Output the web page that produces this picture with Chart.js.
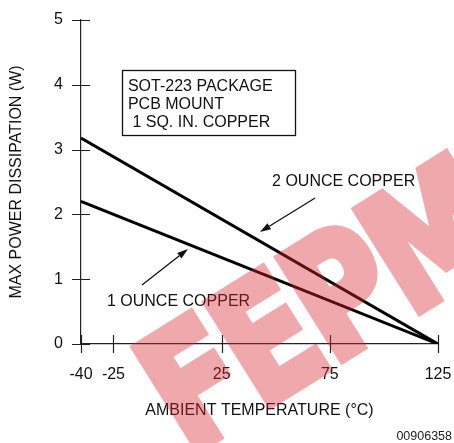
<!DOCTYPE html>
<html><head><meta charset="utf-8">
<script src="https://cdn.jsdelivr.net/npm/chart.js@4.4.0/dist/chart.umd.min.js"></script>
<style>html,body{margin:0;padding:0;background:#fff;}#wrap{width:454px;height:443px;}</style>
</head><body><div id="wrap"><canvas id="c" width="454" height="443"></canvas></div>
<script>
// ---- data ----
const temperatures = [-40, 125];
const twoOunceCopper = [3.18, 0];
const oneOunceCopper = [2.2, 0];
const xTickValues = [-40, -25, 25, 75, 125];
const yTickValues = [0, 1, 2, 3, 4, 5];
const boxLines = ['SOT-223 PACKAGE', 'PCB MOUNT', ' 1 SQ. IN. COPPER'];
const seriesLabels = ['2 OUNCE COPPER', '1 OUNCE COPPER'];
// annotation anchors in data units
const boxRect = {x0: -21, x1: 59, y0: 4.23, y1: 3.225};
const boxTextX = -18.3;
const boxTextY = [3.98, 3.70, 3.41];
const labelPos = [{x: 48.3, y: 2.5}, {x: -28, y: 0.648}];
const arrows = [
  {from: {x: 68.2, y: 2.253}, to: {x: 42.7, y: 1.728}},
  {from: {x: -11.8, y: 0.91}, to: {x: 9.45, y: 1.466}}
];

const FONT = '"Liberation Sans", Arial, sans-serif';
const INK = '#111';

function toPts(xs, ys){ return xs.map((x,i)=>({x, y: ys[i]})); }

const decor = {
  id: 'decor',
  afterDraw(chart){
    const ctx = chart.ctx, xs = chart.scales.x, ys = chart.scales.y;
    const X = v => xs.getPixelForValue(v), Y = v => ys.getPixelForValue(v);
    ctx.save();
    // crossing tick marks
    ctx.strokeStyle = '#222'; ctx.lineWidth = 1.2;
    const ax = xs.left, ay = ys.bottom;
    ctx.beginPath();
    yTickValues.forEach(v=>{ const p=Math.round(Y(v))+0.5; ctx.moveTo(ax-9,p); ctx.lineTo(ax+9,p); });
    xTickValues.forEach(v=>{ const p=Math.round(X(v))+0.5; ctx.moveTo(p,ay-9); ctx.lineTo(p,ay+9); });
    ctx.stroke();
    // box
    ctx.strokeStyle = INK; ctx.lineWidth = 1.3;
    ctx.strokeRect(Math.round(X(boxRect.x0))+0.5, Math.round(Y(boxRect.y0))+0.5,
      Math.round(X(boxRect.x1)-X(boxRect.x0)), Math.round(Y(boxRect.y1)-Y(boxRect.y0)));
    ctx.fillStyle = INK; ctx.font = '16px ' + FONT; ctx.textBaseline = 'middle'; ctx.textAlign = 'left';
    boxLines.forEach((t,i)=> ctx.fillText(t, X(boxTextX), Y(boxTextY[i])));
    // series labels
    seriesLabels.forEach((t,i)=> ctx.fillText(t, X(labelPos[i].x), Y(labelPos[i].y)));
    // arrows
    ctx.lineWidth = 1.3;
    arrows.forEach(a=>{
      const x1=X(a.from.x), y1=Y(a.from.y), x2=X(a.to.x), y2=Y(a.to.y);
      const ang = Math.atan2(y2-y1, x2-x1), L=11, W=3.5;
      const bx = x2 - L*Math.cos(ang), by = y2 - L*Math.sin(ang);
      ctx.beginPath(); ctx.moveTo(x1,y1); ctx.lineTo(bx,by); ctx.stroke();
      ctx.beginPath(); ctx.moveTo(x2,y2);
      ctx.lineTo(bx + W*Math.sin(ang), by - W*Math.cos(ang));
      ctx.lineTo(bx - W*Math.sin(ang), by + W*Math.cos(ang));
      ctx.closePath(); ctx.fill();
    });
    // watermark (drawn opaque offscreen, then blended)
    const off = document.createElement('canvas');
    off.width = chart.width; off.height = chart.height;
    const o = off.getContext('2d');
    o.fillStyle = o.strokeStyle = 'rgb(215,40,50)';
    o.translate(188, 456);
    o.rotate(-32*Math.PI/180);
    o.scale(0.8, 1);
    o.font = 'bold 164px "DejaVu Sans"';
    try { o.letterSpacing = '-6px'; } catch(e) {}
    o.textBaseline = 'alphabetic';
    o.lineWidth = 9; o.lineJoin = 'miter';
    o.fillText('FEPM', 0, 0);
    o.strokeText('FEPM', 0, 0);
    ctx.globalAlpha = 0.4;
    ctx.drawImage(off, 0, 0);
    ctx.globalAlpha = 1;
    // figure id
    ctx.fillStyle = '#222'; ctx.font = '12.5px ' + FONT; ctx.textAlign = 'right'; ctx.textBaseline = 'middle';
    ctx.fillText('00906358', 452, 437);
    ctx.restore();
  }
};

const chart = new Chart(document.getElementById('c'), {
  type: 'line',
  data: {
    datasets: [
      {label: seriesLabels[0], data: toPts(temperatures, twoOunceCopper), borderColor: '#000', borderWidth: 3, pointRadius: 0, fill: false},
      {label: seriesLabels[1], data: toPts(temperatures, oneOunceCopper), borderColor: '#000', borderWidth: 3, pointRadius: 0, fill: false}
    ]
  },
  options: {
    responsive: false, animation: false, devicePixelRatio: 1,
    layout: {padding: {left: 0, right: 16, top: 20, bottom: 12}},
    plugins: {legend: {display: false}, tooltip: {enabled: false}},
    scales: {
      x: {
        type: 'linear', min: -40, max: 125,
        afterBuildTicks: s => { s.ticks = xTickValues.map(v => ({value: v})); },
        grid: {display: true, drawOnChartArea: false, drawTicks: true, tickLength: 21, tickColor: 'rgba(0,0,0,0)'},
        border: {display: true, color: '#222', width: 1.2},
        ticks: {padding: 0, color: INK, font: {family: FONT, size: 16}, maxRotation: 0, autoSkip: false},
        title: {display: true, text: 'AMBIENT TEMPERATURE (°C)', color: INK, font: {family: FONT, size: 16}, padding: {top: 17.2, bottom: 10.4}}
      },
      y: {
        type: 'linear', min: 0, max: 5,
        afterBuildTicks: s => { s.ticks = yTickValues.map(v => ({value: v})); },
        grid: {display: true, drawOnChartArea: false, drawTicks: true, tickLength: 18, tickColor: 'rgba(0,0,0,0)'},
        border: {display: true, color: '#222', width: 1.2},
        ticks: {padding: 0, color: INK, font: {family: FONT, size: 16}},
        title: {display: true, text: 'MAX POWER DISSIPATION (W)', color: INK, font: {family: FONT, size: 16}, padding: {top: 7.4, bottom: 27.5}}
      }
    }
  },
  plugins: [decor]
});
</script></body></html>
